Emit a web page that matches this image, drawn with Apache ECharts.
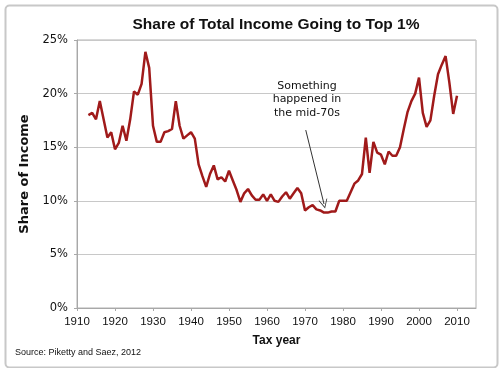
<!DOCTYPE html>
<html>
<head>
<meta charset="utf-8">
<script src="https://cdn.jsdelivr.net/npm/echarts@6/dist/echarts.min.js"></script>
<style>html,body{margin:0;padding:0;background:#fff}#c{width:500px;height:368px}</style>
</head>
<body>
<div id="c"></div>
<script>
const years = [1913,1914,1915,1916,1917,1918,1919,1920,1921,1922,1923,1924,1925,1926,1927,1928,1929,1930,1931,1932,1933,1934,1935,1936,1937,1938,1939,1940,1941,1942,1943,1944,1945,1946,1947,1948,1949,1950,1951,1952,1953,1954,1955,1956,1957,1958,1959,1960,1961,1962,1963,1964,1965,1966,1967,1968,1969,1970,1971,1972,1973,1974,1975,1976,1977,1978,1979,1980,1981,1982,1983,1984,1985,1986,1987,1988,1989,1990,1991,1992,1993,1994,1995,1996,1997,1998,1999,2000,2001,2002,2003,2004,2005,2006,2007,2008,2009,2010];
const top1Share = [18.0,18.2,17.6,19.3,17.6,15.9,16.4,14.8,15.4,17.0,15.6,17.6,20.2,19.9,20.9,23.9,22.4,17.0,15.5,15.5,16.4,16.5,16.7,19.3,17.0,15.8,16.1,16.4,15.8,13.4,12.3,11.3,12.5,13.3,12.0,12.2,11.8,12.8,11.9,11.0,9.9,10.7,11.1,10.5,10.1,10.1,10.6,10.0,10.6,10.0,9.9,10.4,10.8,10.2,10.7,11.2,10.7,9.1,9.4,9.6,9.2,9.1,8.9,8.9,9.0,9.0,10.0,10.0,10.0,10.8,11.6,11.9,12.5,15.9,12.6,15.5,14.5,14.3,13.4,14.6,14.2,14.2,15.0,16.7,18.3,19.3,20.0,21.5,18.2,16.9,17.5,19.8,21.8,22.7,23.5,21.0,18.1,19.8];
const xTicks = [1910,1920,1930,1940,1950,1960,1970,1980,1990,2000,2010];
const annotationLines = ['Something', 'happened in', 'the mid-70s'];
const arrowFrom = [1970.2, 16.6];
const arrowTo = [1975.0, 9.7];

const chart = echarts.init(document.getElementById('c'), null, {renderer: 'canvas'});
chart.setOption({
  backgroundColor: '#ffffff',
  animation: false,
  title: {
    text: 'Share of Total Income Going to Top 1%',
    left: 271, top: 12, textAlign: 'center',
    textStyle: {fontFamily: 'Liberation Sans', fontWeight: 'bold', fontSize: 15.5, color: '#111'}
  },
  grid: {left: 77, right: 24, top: 40, bottom: 60, show: true, borderColor: '#b0b0b0', borderWidth: 1, containLabel: false},
  xAxis: {
    type: 'value', min: 1910, max: 2015, interval: 10,
    name: 'Tax year', nameLocation: 'middle', nameGap: 27,
    nameTextStyle: {fontFamily: 'Liberation Sans', fontWeight: 'bold', fontSize: 12, color: '#111'},
    axisLine: {lineStyle: {color: '#a8a8a8', width: 1}},
    axisTick: {show: true, length: 3, inside: false, customValues: xTicks, lineStyle: {color: '#a8a8a8'}},
    axisLabel: {customValues: xTicks, margin: 8, fontFamily: 'Liberation Sans', fontSize: 11.5, color: '#111', formatter: v => String(v)},
    splitLine: {show: false}
  },
  yAxis: {
    type: 'value', min: 0, max: 25, interval: 5,
    name: 'Share of Income', nameLocation: 'middle', nameGap: 39,
    nameTextStyle: {fontFamily: 'DejaVu Sans', fontWeight: 'bold', fontSize: 13, color: '#111'},
    axisLine: {show: true, lineStyle: {color: '#a8a8a8', width: 1}},
    axisTick: {show: true, length: 3, lineStyle: {color: '#a8a8a8'}},
    axisLabel: {margin: 9, fontFamily: 'DejaVu Sans', fontSize: 11.5, color: '#111', formatter: '{value}%'},
    splitLine: {show: true, lineStyle: {color: '#c8c8c8', width: 1}}
  },
  series: [{
    type: 'line',
    data: years.map((y, i) => [y, top1Share[i]]),
    showSymbol: false,
    lineStyle: {color: '#a01a1a', width: 2.5},
    itemStyle: {color: '#a01a1a'},
    markLine: {
      silent: true,
      symbol: ['none', 'path://M0,10 L5,0 L10,10 L9,10 L5,2 L1,10 Z'],
      symbolSize: [9, 9],
      label: {show: false},
      lineStyle: {color: '#333', width: 1, type: 'solid'},
      data: [[{coord: arrowFrom}, {coord: arrowTo}]]
    }
  }],
  graphic: [
    {type: 'rect', left: 3, top: 3, shape: {width: 492, height: 362, r: 4}, style: {fill: 'none', stroke: '#c8c8c8', lineWidth: 2}, silent: true},
    {type: 'text', x: 307, y: 79, style: {text: annotationLines.join('\n'), textAlign: 'center', fontFamily: 'DejaVu Sans', fontSize: 11, lineHeight: 13.5, fill: '#111'}},
    {type: 'text', left: 15, top: 348, style: {text: 'Source: Piketty and Saez, 2012', fontFamily: 'Liberation Sans', fontSize: 9, fill: '#111'}}
  ]
});
</script>
</body>
</html>
